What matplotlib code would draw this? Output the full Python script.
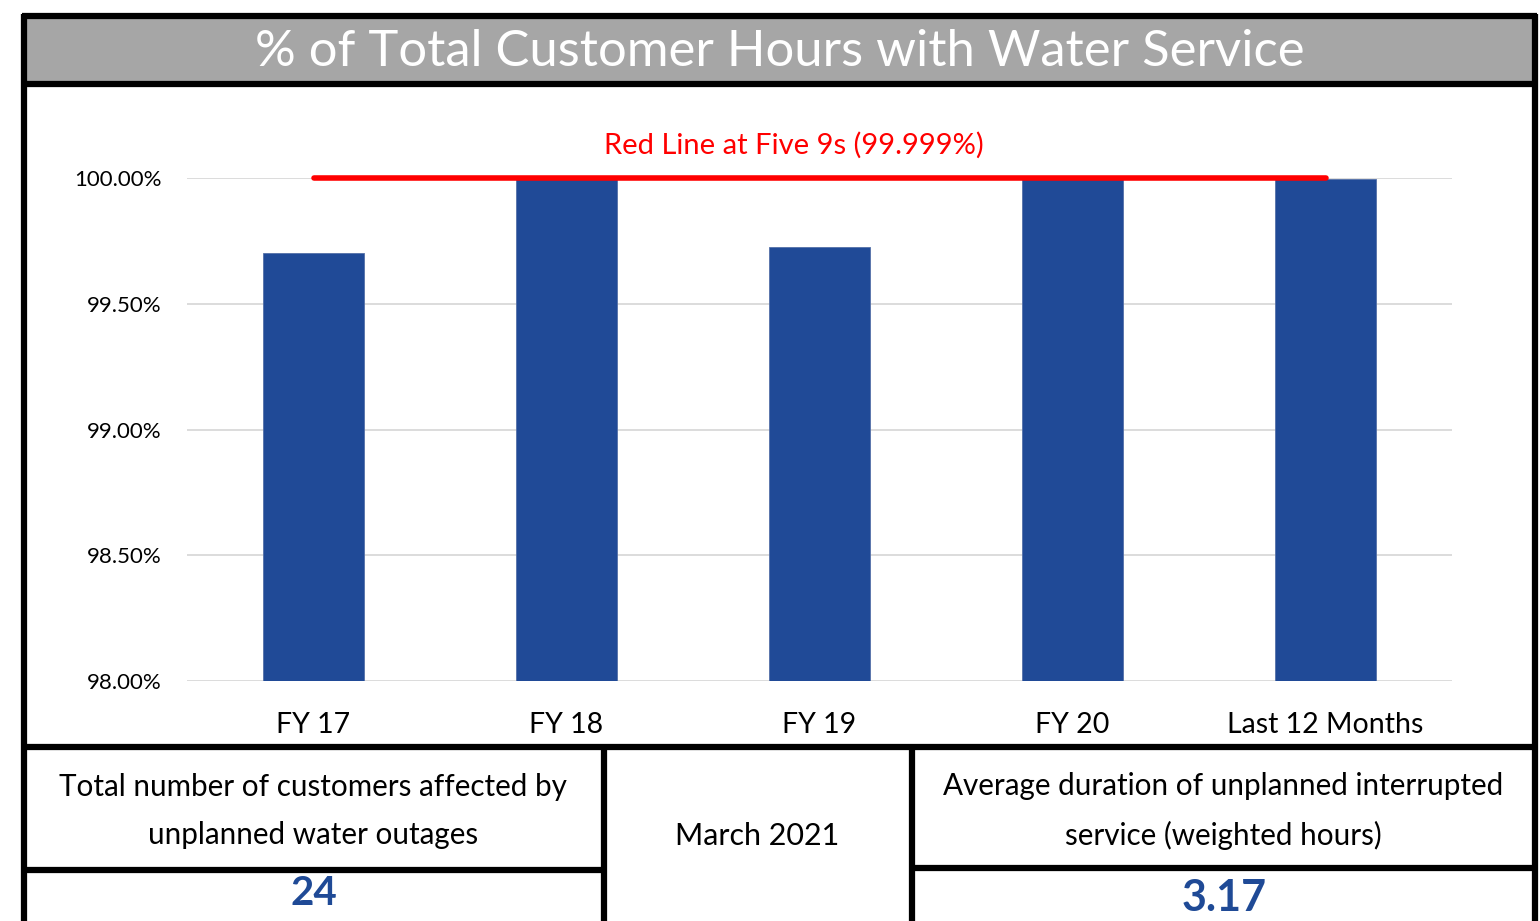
import matplotlib
matplotlib.use("Agg")
import matplotlib.pyplot as plt
from matplotlib.patches import Rectangle

plt.rcParams['font.family'] = ['Lato', 'DejaVu Sans']

categories = ["FY 17", "FY 18", "FY 19", "FY 20", "Last 12 Months"]
values = [99.70, 99.998, 99.725, 99.998, 99.998]
target = 99.999
yticks = [98.0, 98.5, 99.0, 99.5, 100.0]
ytick_labels = ["98.00%", "98.50%", "99.00%", "99.50%", "100.00%"]
title = "% of Total Customer Hours with Water Service"
target_label = "Red Line at Five 9s (99.999%)"
left_label = "Total number of customers affected by\nunplanned water outages"
mid_label = "March 2021"
right_label = "Average duration of unplanned interrupted\nservice (weighted hours)"
left_value = "24"
right_value = "3.17"

W, H = 1540, 921
fig = plt.figure(figsize=(W / 100, H / 100), dpi=100)

# background canvas in pixel coordinates
bg = fig.add_axes([0, 0, 1, 1])
bg.set_xlim(0, W)
bg.set_ylim(H, 0)
bg.axis("off")

# title band
bg.add_patch(Rectangle((24, 16), 1511, 68, facecolor="#A6A6A6", edgecolor="none"))
bg.text(780, 52, title, color="white", fontsize=36.5, ha="center", va="center")

lw = 4.5
def hline(y, x0, x1, w=lw):
    bg.plot([x0, x1], [y, y], color="black", lw=w, solid_capstyle="butt")
def vline(x, y0, y1, w=lw):
    bg.plot([x, x], [y0, y1], color="black", lw=w, solid_capstyle="butt")

hline(16, 22, 1537)
hline(84, 22, 1537)
hline(747, 22, 1537)
vline(24, 14, 921)
vline(1535, 14, 921)
vline(604, 747, 921)
vline(912, 747, 921)
hline(870, 22, 604)
hline(868, 912, 1537)

bg.text(313, 811, left_label, fontsize=21.3, ha="center", va="center", linespacing=1.9)
bg.text(757, 836, mid_label, fontsize=22, ha="center", va="center")
bg.text(1223, 811, right_label, fontsize=21.3, ha="center", va="center", linespacing=1.9)
bg.text(314, 893, left_value, fontsize=29, ha="center", va="center", color="#1F4A96", fontweight="bold")
bg.text(1224, 898, right_value, fontsize=31, ha="center", va="center", color="#1F4A96", fontweight="bold")

# chart axes
x0, x1, ytop, ybot = 187, 1452, 178, 681
ax = fig.add_axes([x0 / W, (H - ybot) / H, (x1 - x0) / W, (ybot - ytop) / H])
ax.set_facecolor("none")
xs = list(range(len(categories)))
ax.bar(xs, values, width=0.4, color="#204A97", edgecolor="#5470A8", linewidth=0.6, zorder=2)
ax.set_xlim(-0.5, len(categories) - 0.5)
ax.set_ylim(98.0, 100.0)
ax.set_yticks(yticks)
ax.set_yticklabels(ytick_labels, fontsize=16)
ax.set_xticks(xs)
ax.set_xticklabels(categories, fontsize=20.5)
ax.tick_params(axis="both", length=0)
ax.tick_params(axis="y", pad=18.5)
ax.tick_params(axis="x", pad=22)
ax.grid(axis="y", color="#D9D9D9", lw=1.3, zorder=0)
ax.set_axisbelow(True)
for s in ax.spines.values():
    s.set_visible(False)

ax.plot([0, len(categories) - 1], [target, target], color="#FF0000", lw=4,
        solid_capstyle="round", clip_on=False, zorder=3)
ax.text((len(categories) - 1) / 2 - 0.1, 100.13, target_label, color="#FF0000",
        fontsize=21, ha="center", va="center")

fig.savefig("out.png", dpi=100)
